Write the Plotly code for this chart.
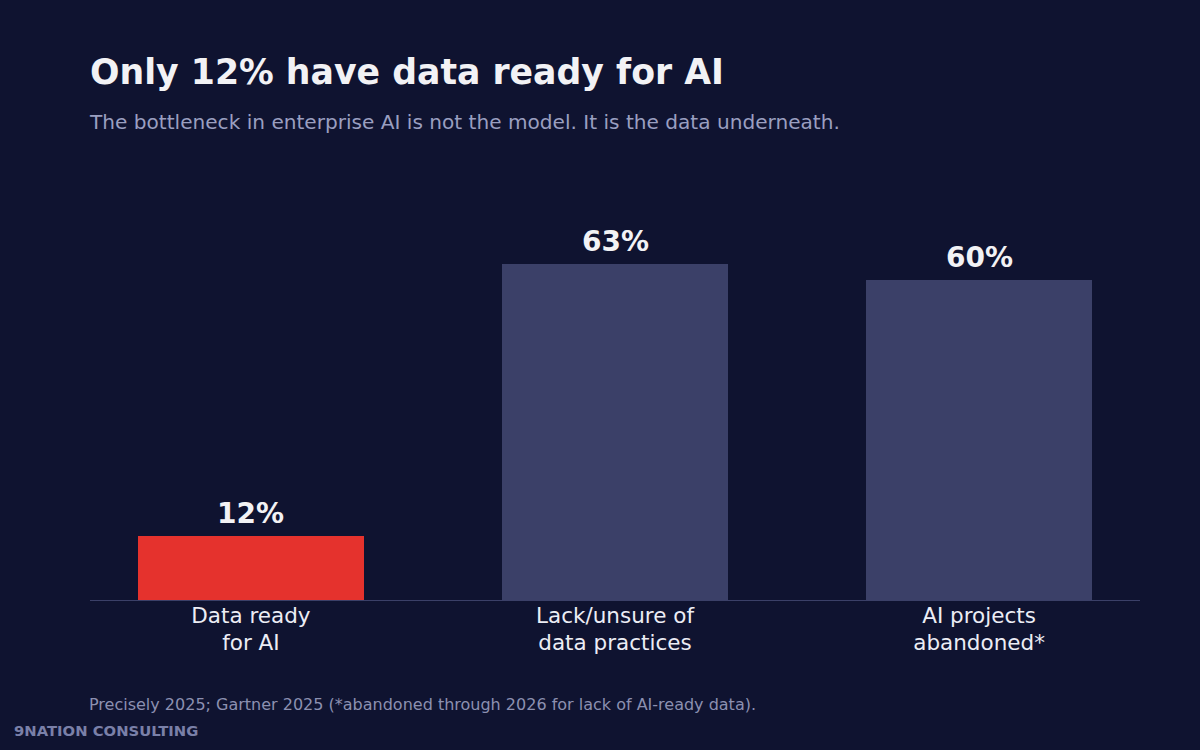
import plotly.graph_objects as go

# data
categories = ["Data ready<br>for AI", "Lack/unsure of<br>data practices", "AI projects<br>abandoned*"]
values = [12, 63, 60]
value_labels = ["12%", "63%", "60%"]
bar_colors = ["#e5322d", "#3b4068", "#3b4068"]

title = "Only 12% have data ready for AI"
subtitle = "The bottleneck in enterprise AI is not the model. It is the data underneath."
footnote = "Precisely 2025; Gartner 2025 (*abandoned through 2026 for lack of AI-ready data)."
brand = "9NATION CONSULTING"

BG = "#0f1330"
FONT = "DejaVu Sans"

fig = go.Figure(
    go.Bar(
        x=list(range(len(categories))),
        y=values,
        width=0.62,
        marker=dict(color=bar_colors, line=dict(width=0)),
        hoverinfo="skip",
    )
)

annotations = []
# value labels above bars
for i, (v, lab) in enumerate(zip(values, value_labels)):
    annotations.append(
        dict(
            x=i, y=v, xref="x", yref="y", text=f"<b>{lab}</b>",
            showarrow=False, yanchor="bottom", yshift=4,
            font=dict(family=FONT, size=28, color="#f2f2f5"),
        )
    )

annotations += [
    dict(
        text=subtitle, x=0, y=(600 - 122) / 400, xref="paper", yref="paper",
        xanchor="left", yanchor="middle", showarrow=False, xshift=-3,
        font=dict(family=FONT, size=20.1, color="#9a9fc0"),
    ),
    dict(
        text=footnote, x=0, y=(600 - 704) / 400, xref="paper", yref="paper",
        xanchor="left", yanchor="middle", showarrow=False, xshift=-3,
        font=dict(family=FONT, size=16, color="#8c90b0"),
    ),
    dict(
        text=f"<b>{brand}</b>", x=(14 - 90) / 1050, y=(600 - 730) / 400,
        xref="paper", yref="paper", xanchor="left", yanchor="middle",
        showarrow=False, xshift=-2,
        font=dict(family=FONT, size=14.8, color="#7a80a8"),
    ),
]

fig.update_layout(
    width=1200,
    height=750,
    paper_bgcolor=BG,
    plot_bgcolor=BG,
    margin=dict(l=90, r=60, t=200, b=150),
    showlegend=False,
    bargap=0,
    title=dict(
        text=f"<b>{title}</b>", x=90 / 1200, xanchor="left",
        y=1 - 72 / 750, yanchor="middle",
        font=dict(family=FONT, size=34.7, color="#f2f2f5"),
    ),
    xaxis=dict(
        range=[-0.442, 2.442],
        tickmode="array",
        tickvals=list(range(len(categories))),
        ticktext=categories,
        showgrid=False,
        zeroline=False,
        showline=False,
        ticks="",
        tickfont=dict(family=FONT, size=21.5, color="#ecedf5"),
        fixedrange=True,
    ),
    yaxis=dict(
        range=[0, 75],
        showgrid=False,
        zeroline=True,
        zerolinecolor="#3b4068",
        zerolinewidth=1,
        showticklabels=False,
        showline=False,
        ticks="",
        fixedrange=True,
    ),
    annotations=annotations,
)

fig.write_html("out.html", config={"displayModeBar": False})

# drop the default page margin so the chart sits at 0,0
with open("out.html") as f:
    html = f.read()
html = html.replace(
    "</head>", f"<style>html, body {{margin: 0; padding: 0; background: {BG};}}</style></head>", 1
)
with open("out.html", "w") as f:
    f.write(html)
